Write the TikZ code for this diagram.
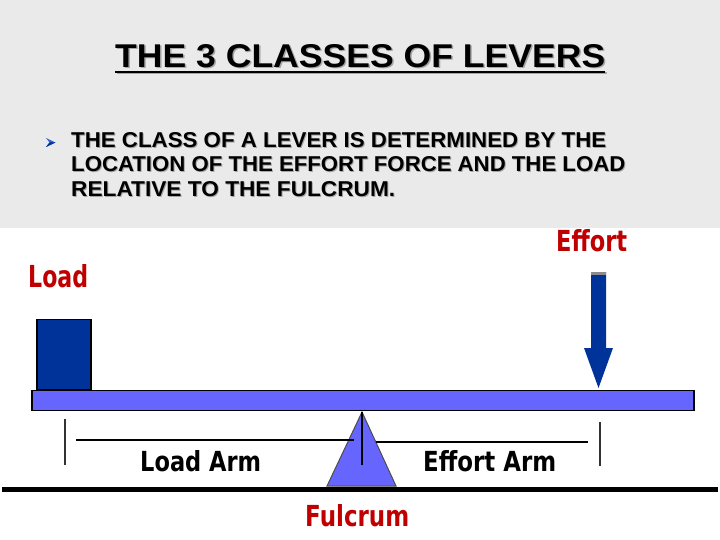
\documentclass[tikz,border=0pt]{standalone}
\usepackage{fontspec}
\setmainfont{Liberation Sans}
\newfontfamily\labfont{DejaVu Sans}
\usepackage{graphicx}
\definecolor{bggray}{HTML}{EAEAEA}
\definecolor{labred}{HTML}{C00000}
\definecolor{darkblue}{HTML}{003399}
\definecolor{beamblue}{HTML}{6666FF}
\definecolor{bulletblue}{HTML}{3366CC}
\begin{document}
\begin{tikzpicture}[x=1pt,y=-1pt,
  txt/.style={inner sep=0pt, anchor=south west},
  shadowtxt/.style={txt, text=black!35},
  redlabel/.style={txt, text=labred},
  blacklabel/.style={txt, text=black},
  outlined/.style={draw=black, line width=1.5pt},
  tick/.style={draw=black!80, line width=2.5pt},
  armline/.style={draw=black, line width=1.4pt}]
\useasboundingbox (0,0) rectangle (720,540);
\fill[bggray] (0,0) rectangle (720,228);
\fill[white] (0,228) rectangle (720,540);

% title with shadow
\node[shadowtxt] (titleshadow) at (116.5,69.5) {\resizebox{490pt}{23pt}{\bfseries THE 3 CLASSES OF LEVERS}};
\node[txt] (title) at (115,68) {\resizebox{490pt}{23pt}{\bfseries THE 3 CLASSES OF LEVERS}};
\draw[black!35, line width=2pt] (117,73.5) -- (607,73.5);
\draw[black, line width=2pt] (115,72) -- (605,72);

% bullet
\fill[bulletblue] (46,138) -- (55.5,142.5) -- (46,147) -- (49.5,142.5) -- cycle;
\fill[darkblue] (49.5,142.5) -- (55.5,142.5) -- (46,147) -- cycle;

% body text
\foreach \yy/\ww/\tt [count=\i] in {148/535/{THE CLASS OF A LEVER IS DETERMINED BY THE},172/554/{LOCATION OF THE EFFORT FORCE AND THE LOAD},197/324/{RELATIVE TO THE FULCRUM.}}{
  \node[shadowtxt] (bodyshadow\i) at (72,\yy+1) {\resizebox{\ww pt}{15pt}{\bfseries \tt}};
  \node[txt] (body\i) at (71,\yy) {\resizebox{\ww pt}{15pt}{\bfseries \tt}};
}

% labels
\node[redlabel] (loadlbl) at (28,288) {\resizebox{60pt}{23pt}{\labfont\bfseries Load}};
\node[redlabel] (effortlbl) at (556,252) {\resizebox{71pt}{22pt}{\labfont\bfseries Effort}};
\node[blacklabel] (loadarm) at (140,472) {\resizebox{121pt}{21pt}{\labfont\bfseries Load Arm}};
\node[blacklabel] (effortarm) at (423,472) {\resizebox{133pt}{21pt}{\labfont\bfseries Effort Arm}};
\node[redlabel] (fulcrumlbl) at (305,527) {\resizebox{104pt}{22pt}{\labfont\bfseries Fulcrum}};

% ground
\coordinate (gl) at (2,489);
\coordinate (gr) at (718,489);
\draw[black, line width=5pt] (gl) -- (gr);

% fulcrum
\coordinate (apex) at (362,412);
\coordinate (bl) at (327,486);
\coordinate (br) at (396,486);
\filldraw[fill=beamblue, draw=black!70, line width=1pt] (apex) -- (bl) -- (br) -- cycle;
\coordinate (fbot) at (362,465);
\draw[black, line width=2pt] (apex) -- (fbot);

% beam
\node[outlined, fill=beamblue, inner sep=0pt, minimum width=662pt, minimum height=20pt, anchor=south west] (beam) at (31,411) {};

% load block
\node[outlined, fill=darkblue, inner sep=0pt, minimum width=54pt, minimum height=70pt, anchor=south west] (block) at (36,390) {};

% arm lines and ticks
\coordinate (t1a) at (65,419); \coordinate (t1b) at (65,465);
\coordinate (t2a) at (600,422); \coordinate (t2b) at (600,466);
\draw[tick] (t1a) -- (t1b);
\draw[tick] (t2a) -- (t2b);
\coordinate (la) at (76,440); \coordinate (lb) at (354,440);
\coordinate (ea) at (376,442); \coordinate (eb) at (588,442);
\draw[armline] (la) -- (lb);
\draw[armline] (ea) -- (eb);

% effort arrow
\coordinate (atop) at (598.5,272);
\coordinate (atip) at (598.5,388);
\fill[darkblue] (591,272) -- (606,272) -- (606,348) -- (613,348) -- (atip) -- (584,348) -- (591,348) -- cycle;
\fill[black!45] (591,272) rectangle (606,275);
\end{tikzpicture}
\end{document}
